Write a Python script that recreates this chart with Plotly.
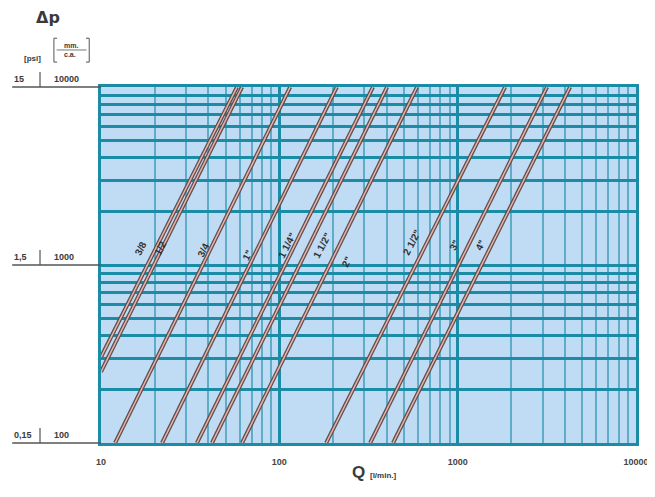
import math
import plotly.graph_objects as go

# Pipe sizes and two read points per line (Q in l/min, dp in mm c.a.)
pipe_sizes = ['3/8', '1/2', '3/4', '1"', '1 1/4"', '1 1/2"', '2"', '2 1/2"', '3"', '4"']
q_start = [10, 10, 12.0, 22.0, 34.5, 41.9, 61.8, 183, 323, 434]
dp_start = [304, 251, 100, 100, 100, 100, 100, 100, 100, 100]
q_end = [57.9, 61.8, 115, 210, 335, 402, 592, 1845, 3170, 4270]
dp_end = [10000, 10000, 10000, 10000, 10000, 10000, 10000, 10000, 10000, 10000]

# label anchor positions (Q, dp)
label_q = [16.6, 21.4, 37.3, 65.9, 110, 173, 240, 555, 955, 1336]
label_dp = [1245, 1245, 1213, 1137, 1295, 1295, 1040, 1330, 1295, 1295]

x_tick_vals = [10, 100, 1000, 10000]
x_tick_text = ['10', '100', '1000', '10000']
y_levels_mm = [100, 1000, 10000]
y_levels_mm_text = ['100', '1000', '10000']
y_levels_psi_text = ['0,15', '1,5', '15']

x_minor = [m * 10 ** k for k in (1, 2, 3) for m in range(2, 10)]
y_minor = [m * 10 ** k for k in (2, 3) for m in range(2, 10)]

fig = go.Figure()

for i, name in enumerate(pipe_sizes):
    xs = [q_start[i], q_end[i]]
    ys = [dp_start[i], dp_end[i]]
    fig.add_trace(go.Scatter(x=xs, y=ys, mode='lines',
                             line=dict(color='#5e4d4b', width=4.0),
                             hoverinfo='skip', showlegend=False, cliponaxis=True))
    fig.add_trace(go.Scatter(x=xs, y=ys, mode='lines', name=name,
                             line=dict(color='#e9b2ad', width=1.5),
                             showlegend=False, cliponaxis=True))

for i, name in enumerate(pipe_sizes):
    fig.add_annotation(x=math.log10(label_q[i]), y=math.log10(label_dp[i]),
                       xref='x', yref='y', text='<b>' + name + '</b>',
                       showarrow=False, textangle=-63,
                       font=dict(family='Liberation Sans', size=10, color='#333333'))

teal = '#1b8ca5'
minor_col = 'rgba(30,140,170,0.6)'
fig.update_xaxes(type='log', range=[1, 4], tickvals=x_tick_vals,
                 ticktext=['<b>' + t + '</b>' for t in x_tick_text],
                 tickfont=dict(family='Liberation Sans', size=9, color='#444'),
                 showgrid=True, gridcolor=teal, gridwidth=3,
                 minor=dict(tickmode='array', tickvals=x_minor, showgrid=True,
                            gridcolor=minor_col, gridwidth=1.5, ticks=''),
                 showline=True, linecolor=teal, linewidth=3, mirror=True,
                 ticks='', zeroline=False, ticklabelstandoff=8, automargin=False)
fig.update_yaxes(type='log', range=[2, 4], showticklabels=False,
                 showgrid=True, gridcolor=teal, gridwidth=3,
                 minor=dict(tickmode='array', tickvals=y_minor, showgrid=True,
                            gridcolor=minor_col, gridwidth=1.5, ticks=''),
                 showline=True, linecolor=teal, linewidth=3, mirror=True,
                 ticks='', zeroline=False, automargin=False)

# Y-axis labels (two scales)
for j, v in enumerate(y_levels_mm):
    yp = j * 0.5
    fig.add_annotation(x=-0.166, y=yp, xref='paper', yref='paper', text='<b>' + y_levels_psi_text[j] + '</b>',
                       showarrow=False, xanchor='left', yanchor='bottom', yshift=1,
                       font=dict(family='Liberation Sans', size=9, color='#3a3a3a'))
    fig.add_annotation(x=-0.092, y=yp, xref='paper', yref='paper', text='<b>' + y_levels_mm_text[j] + '</b>',
                       showarrow=False, xanchor='left', yanchor='bottom', yshift=1,
                       font=dict(family='Liberation Sans', size=9, color='#3a3a3a'))
    fig.add_shape(type='line', xref='paper', yref='paper', x0=-0.166, x1=0, y0=yp, y1=yp,
                  line=dict(color='#555', width=1.5))
    fig.add_shape(type='line', xref='paper', yref='paper', x0=-0.114, x1=-0.114, y0=yp, y1=yp + 0.042,
                  line=dict(color='#555', width=1.2))

# Header
fig.add_annotation(x=-0.125, y=1.163, xref='paper', yref='paper', text='<b>Δp</b>',
                   showarrow=False, xanchor='left', yanchor='bottom',
                   font=dict(family='DejaVu Sans', size=16, color='#3a3a3a'))
fig.add_annotation(x=-0.148, y=1.098, xref='paper', yref='paper', text='<b>[psi]</b>',
                   showarrow=False, font=dict(family='Liberation Sans', size=8, color='#3a3a3a'))
fig.add_annotation(x=-0.056, y=1.104, xref='paper', yref='paper', text='<b>mm.<br>c.a.</b>',
                   showarrow=False, align='left', xanchor='center', yanchor='middle',
                   font=dict(family='Liberation Sans', size=7, color='#3a3a3a'))
fig.add_shape(type='path', xref='paper', yref='paper',
              path='M -0.082 1.137 L -0.088 1.137 L -0.088 1.070 L -0.082 1.070',
              line=dict(color='#555', width=1))
fig.add_shape(type='path', xref='paper', yref='paper',
              path='M -0.028 1.137 L -0.022 1.137 L -0.022 1.070 L -0.028 1.070',
              line=dict(color='#555', width=1))
fig.add_shape(type='line', xref='paper', yref='paper', x0=-0.083, x1=-0.027, y0=1.104, y1=1.104,
              line=dict(color='#555', width=0.8))

# X title
fig.add_annotation(x=0.512, y=-0.115, xref='paper', yref='paper',
                   text="<b>Q</b> <b><span style='font-size:8px'>[l/min.]</span></b>",
                   showarrow=False, font=dict(family='Liberation Sans', size=17, color='#3a3a3a'))

# page body has an 8px margin, so shrink the figure and offsets by that amount
fig.update_layout(width=647, height=489,
                  margin=dict(l=93, r=19, t=79, b=54, autoexpand=False),
                  plot_bgcolor='#c0dcf4', paper_bgcolor='white',
                  showlegend=False)

fig.write_html('out.html')
